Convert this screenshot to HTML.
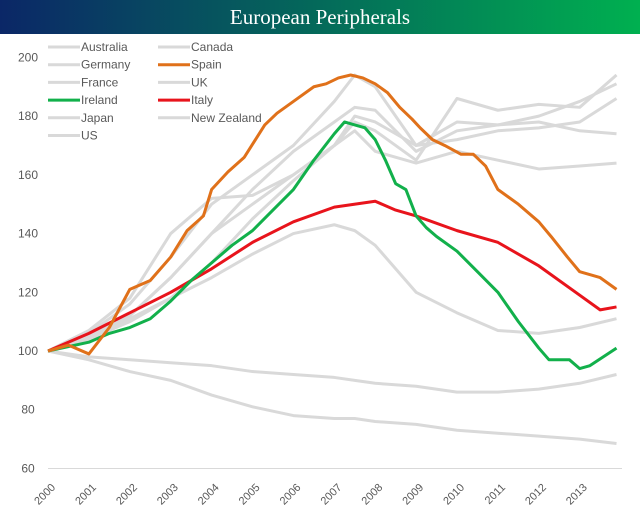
<!DOCTYPE html>
<html><head><meta charset="utf-8"><style>
body{margin:0;background:#fff;width:640px;height:510px;overflow:hidden;font-family:"Liberation Sans",sans-serif}
#title{position:absolute;left:0;top:0;width:640px;height:34px;background:linear-gradient(90deg,#0b2767 0%,#046a5a 50%,#00b050 100%);color:#fff;font-family:"Liberation Serif",serif;font-size:21px;text-align:center;line-height:34px}
svg{position:absolute;left:0;top:0}
</style></head><body>
<div id="title">European Peripherals</div>
<svg id="c" width="640" height="510"></svg>
<script>
const yTicks=[60,80,100,120,140,160,180,200];
const years=[2000,2001,2002,2003,2004,2005,2006,2007,2008,2009,2010,2011,2012,2013];
const grayT=[2000,2001,2002,2003,2004,2005,2006,2007,2007.5,2008,2009,2010,2011,2012,2013,2013.9];
const ukV=[100,106,116,132,150,160,170,185,194,190,170,172,175,176,178,186];
const franceV=[100,105,112,125,140,155,168,178,183,182,168,175,177,180,185,191];
const australiaV=[100,107,118,140,152,153,160,170,178,175,165,186,182,184,183,194];
const canadaV=[100,104,110,118,130,145,158,170,180,178,170,178,177,178,175,174];
const nzV=[100,105,112,125,140,150,160,170,175,168,164,168,165,162,163,164];
const usV=[100,104,111,118,125,133,140,143,141,136,120,113,107,106,108,111];
const germanyV=[100,98,97,96,95,93,92,91,90,89,88,86,86,87,89,92];
const japanV=[100,97,93,90,85,81,78,77,77,76,75,73,72,71,70,68.5];
const spainT=[2000,2000.5,2001,2001.5,2002,2002.5,2003,2003.4,2003.8,2004,2004.4,2004.8,2005.3,2005.6,2006,2006.5,2006.8,2007.1,2007.4,2007.7,2008,2008.3,2008.6,2008.9,2009.1,2009.4,2009.7,2010.1,2010.4,2010.7,2011,2011.5,2012,2012.3,2012.7,2013,2013.5,2013.9];
const spainV=[100,102,99,108,121,124,132,141,146,155,161,166,177,181,185,190,191,193,194,193,191,188,183,179,176,172,170,167,167,163,155,150,144,139,132,127,125,121];
const irelandT=[2000,2001,2001.5,2002,2002.5,2003,2003.5,2004,2004.5,2005,2005.5,2006,2006.5,2007,2007.25,2007.5,2007.75,2008,2008.25,2008.5,2008.75,2009,2009.25,2009.5,2010,2010.5,2011,2011.5,2012,2012.25,2012.75,2013,2013.25,2013.9];
const irelandV=[100,103,106,108,111,117,124,130,136,141,148,155,165,174,178,177,176,172,165,157,155,146,142,139,134,127,120,110,101,97,97,94,95,101];
const italyT=[2000,2001,2002,2003,2004,2005,2006,2007,2008,2008.5,2009,2010,2011,2012,2013,2013.5,2013.9];
const italyV=[100,106,113,120,128,137,144,149,151,148,146,141,137,129,119,114,115];
const x=t=>48+40.9*(t-2000);
const y=v=>351-(v-100)*2.936;
const svg=document.getElementById('c');const NS='http://www.w3.org/2000/svg';
function mk(tag,at){const e=document.createElementNS(NS,tag);for(const k in at)e.setAttribute(k,at[k]);svg.appendChild(e);return e;}
const ax=mk('line',{x1:48,x2:622,y1:y(60),y2:y(60),stroke:'#d9d9d9','stroke-width':1});


yTicks.forEach(v=>{const t=mk('text',{x:28,y:y(v)+4,'text-anchor':'middle','font-size':12,fill:'#595959'});t.textContent=v;

});
years.forEach(yr=>{const t=mk('text',{x:x(yr)+8,y:488,'text-anchor':'end','font-size':11,fill:'#595959',transform:`rotate(-45 ${x(yr)+8} 488)`});t.textContent=yr;

});
function line(T,V,col,w,name){const p=mk('polyline',{points:T.map((t,i)=>x(t)+','+y(V[i])).join(' '),fill:'none',stroke:col,'stroke-width':w,'stroke-linejoin':'round'});

}
const G='#d9d9d9';
line(grayT,japanV,G,3,'line-japan');line(grayT,germanyV,G,3,'line-germany');line(grayT,usV,G,3,'line-us');
line(grayT,nzV,G,3,'line-new-zealand');line(grayT,canadaV,G,3,'line-canada');line(grayT,australiaV,G,3,'line-australia');
line(grayT,franceV,G,3,'line-france');line(grayT,ukV,G,3,'line-uk');
line(italyT,italyV,'#e8141c',3,'line-italy');
line(irelandT,irelandV,'#12b04b',3,'line-ireland');
line(spainT,spainV,'#e0711a',3,'line-spain');
const leg=[['Australia',G,0,0],['Canada',G,1,0],['Germany',G,0,1],['Spain','#e0711a',1,1],['France',G,0,2],['UK',G,1,2],['Ireland','#12b04b',0,3],['Italy','#e8141c',1,3],['Japan',G,0,4],['New Zealand',G,1,4],['US',G,0,5]];
leg.forEach(([n,c,col,row])=>{const lx=col?158:48,ly=47+row*17.7;
const s=mk('line',{x1:lx,x2:lx+32,y1:ly,y2:ly,stroke:c,'stroke-width':3});


const t=mk('text',{x:lx+33,y:ly+4,'font-size':12,fill:'#595959'});t.textContent=n;

});
</script>
</body></html>
